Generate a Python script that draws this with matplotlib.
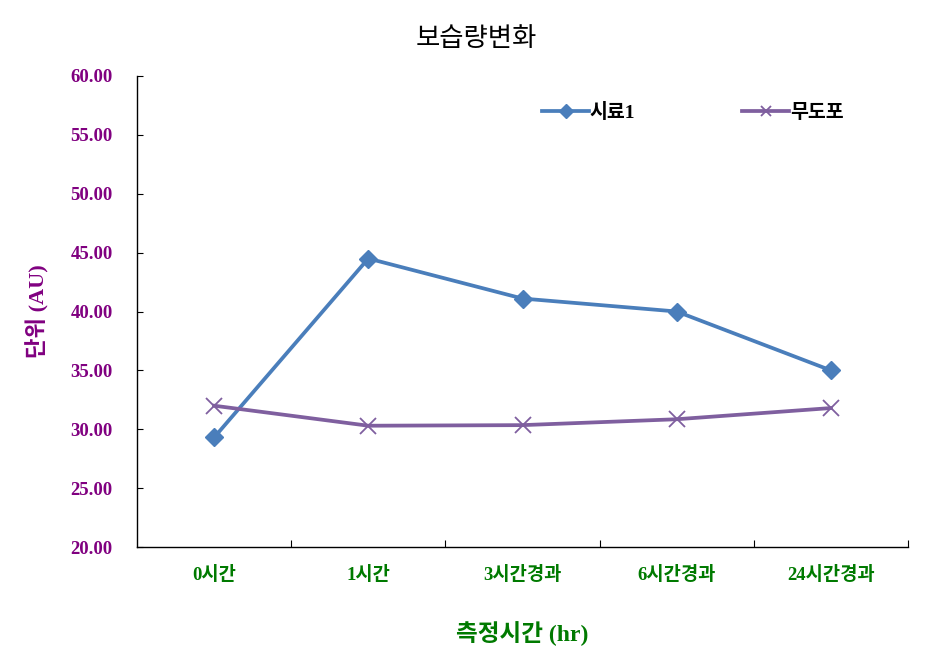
import matplotlib
matplotlib.use("Agg")
import matplotlib.pyplot as plt
from matplotlib.ticker import FixedLocator

plt.rcParams['font.family'] = ['Liberation Serif', 'Noto Sans CJK KR']

categories = ['0시간', '1시간', '3시간경과', '6시간경과', '24시간경과']
series1_name = '시료1'
series1 = [29.3, 44.5, 41.1, 40.0, 35.0]
series2_name = '무도포'
series2 = [32.0, 30.3, 30.35, 30.85, 31.8]
yticks = [20, 25, 30, 35, 40, 45, 50, 55, 60]

fig = plt.figure(figsize=(9.41, 6.54), dpi=100)
ax = fig.add_axes([137/941, 1-547/654, (908-137)/941, (547-76)/654])

x = list(range(len(categories)))
ax.plot(x, series1, color='#4a7ebb', lw=2.7, marker='D', ms=9,
        mfc='#4a7ebb', mec='#4a7ebb', label=series1_name, zorder=3)
ax.plot(x, series2, color='#7f5f9f', lw=2.7, marker='x', ms=12, mew=1.3,
        mec='#7f5f9f', label=series2_name, zorder=3)

ax.set_xlim(-0.5, len(categories) - 0.5)
ax.set_ylim(20, 60)
ax.set_yticks(yticks)
ax.set_yticklabels([f'{v:.2f}' for v in yticks], color='#800080',
                   fontweight='bold', fontsize=13.5)
ax.set_xticks(x)
ax.set_xticklabels(categories, color='#007a00', fontweight='bold', fontsize=13.5)
ax.xaxis.set_minor_locator(FixedLocator([i + 0.5 for i in range(len(categories))]))
ax.tick_params(axis='x', which='major', length=0, pad=14)
ax.tick_params(axis='x', which='minor', direction='in', length=5, width=0.8)
ax.tick_params(axis='y', direction='in', length=4, width=0.8, pad=17.5)

for s in ['top', 'right']:
    ax.spines[s].set_visible(False)
for s in ['left', 'bottom']:
    ax.spines[s].set_linewidth(1.0)

ax.set_ylabel('단위 (AU)', color='#800080', fontweight='bold', fontsize=16)
ax.yaxis.set_label_coords(-0.113, 0.5)
ax.set_xlabel('측정시간 (hr)', color='#007a00', fontweight='bold', fontsize=17)
ax.xaxis.set_label_coords(0.5, -0.157)

fig.text(476/941, 1-38/654, '보습량변화', ha='center', va='center',
         fontsize=19, family=['Noto Sans CJK KR'])

leg = ax.legend(loc='upper left', bbox_to_anchor=(0.503, 0.98), ncol=2,
                frameon=False, columnspacing=5.5, handlelength=2.4,
                handletextpad=0.05,
                prop={'weight': 'bold', 'size': 14,
                      'family': ['Liberation Serif', 'Noto Sans CJK KR']})
for h in leg.legend_handles:
    h.set_markersize(7)

fig.savefig('out.png', dpi=100)
